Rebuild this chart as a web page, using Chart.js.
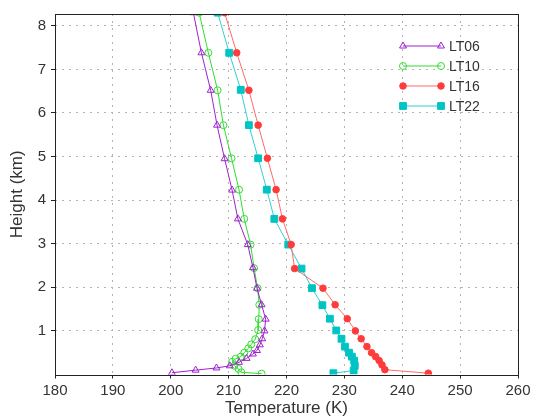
<!DOCTYPE html>
<html>
<head>
<meta charset="utf-8">
<script src="https://cdn.jsdelivr.net/npm/chart.js@4"></script>
<style>
  html, body { margin: 0; padding: 0; background: #fff; }
  #wrap { width: 535px; height: 419px; }
</style>
</head>
<body>
<div id="wrap"><canvas id="grafica" width="535" height="419"></canvas></div>
<script>
const xTicks = [180, 190, 200, 210, 220, 230, 240, 250, 260];
const yTicks = [1, 2, 3, 4, 5, 6, 7, 8];
const seriesNames = ["LT06", "LT10", "LT16", "LT22"];

// height (km) / temperature (K), top to bottom
const lt06Height = [8.3, 7.38, 6.52, 5.72, 4.95, 4.23, 3.57, 2.98, 2.45, 1.98, 1.6, 1.27, 1.0, 0.82, 0.68, 0.55, 0.47, 0.37, 0.28, 0.2, 0.15, 0.1, 0.04];
const lt06Temp = [203.9, 205.3, 206.9, 208.0, 209.3, 210.6, 211.6, 213.3, 214.2, 214.9, 215.7, 216.4, 216.2, 215.8, 215.4, 214.9, 214.2, 213.1, 211.8, 210.2, 207.9, 204.3, 200.2];

const lt10Height = [8.3, 7.38, 6.52, 5.72, 4.96, 4.24, 3.57, 2.98, 2.44, 1.98, 1.6, 1.27, 1.02, 0.81, 0.69, 0.6, 0.5, 0.41, 0.36, 0.29, 0.2, 0.13, 0.05, 0.02];
const lt10Temp = [204.9, 206.5, 208.1, 209.1, 210.5, 211.8, 212.7, 213.8, 214.4, 215.0, 215.3, 215.2, 215.1, 214.6, 213.9, 213.4, 212.7, 212.1, 211.2, 210.6, 211.0, 211.7, 212.2, 215.7];

const lt16Height = [8.3, 7.38, 6.52, 5.72, 4.96, 4.24, 3.57, 2.98, 2.43, 1.98, 1.6, 1.28, 1.0, 0.82, 0.64, 0.5, 0.41, 0.32, 0.22, 0.11, 0.03];
const lt16Temp = [209.3, 211.4, 213.5, 215.1, 216.7, 218.2, 219.3, 220.8, 221.4, 226.3, 228.4, 230.5, 231.9, 232.9, 233.9, 234.7, 235.4, 236.0, 236.5, 237.0, 244.5];

const lt22Height = [8.3, 7.38, 6.53, 5.72, 4.96, 4.24, 3.57, 2.98, 2.43, 1.98, 1.59, 1.28, 1.01, 0.82, 0.64, 0.5, 0.41, 0.32, 0.2, 0.09, 0.03];
const lt22Temp = [208.1, 210.1, 212.1, 213.5, 215.1, 216.6, 217.9, 220.3, 222.6, 224.4, 226.2, 227.5, 228.6, 229.5, 230.1, 230.8, 231.3, 231.7, 231.8, 231.6, 228.1];

const puntos = (t, h) => t.map((v, i) => ({ x: v, y: h[i] }));

const estilos = [
  { line: "#a020d0", point: "#a020d0", fill: "rgba(0,0,0,0)", style: "triangle", r: 4 },
  { line: "#30dd30", point: "#30dd30", fill: "rgba(0,0,0,0)", style: "circle", r: 3.5 },
  { line: "#ff6a6a", point: "#ff3b3b", fill: "#ff3b3b", style: "circle", r: 3.3 },
  { line: "#30d0d0", point: "#00c4c4", fill: "#00c4c4", style: "rect", r: 4.8 }
];
const valores = [
  puntos(lt06Temp, lt06Height),
  puntos(lt10Temp, lt10Height),
  puntos(lt16Temp, lt16Height),
  puntos(lt22Temp, lt22Height)
];

const fuente = "'Liberation Sans', Arial, sans-serif";
const tinta = "#333";

// marco y leyenda
const marco = {
  id: "marco",
  afterDatasetsDraw(chart) {
    const { ctx, chartArea: a } = chart;
    ctx.save();
    ctx.strokeStyle = "#222";
    ctx.lineWidth = 1;
    ctx.strokeRect(Math.round(a.left) + 0.5, Math.round(a.top) + 0.5,
      Math.round(a.right - a.left), Math.round(a.bottom - a.top));

    chart.data.datasets.forEach((ds, i) => {
      const y = 46 + i * 20;
      ctx.strokeStyle = ds.borderColor;
      ctx.lineWidth = 1;
      ctx.beginPath();
      ctx.moveTo(403, y);
      ctx.lineTo(441, y);
      ctx.stroke();
      ctx.fillStyle = ds.pointBackgroundColor;
      ctx.strokeStyle = ds.pointBorderColor;
      [403, 441].forEach(x => {
        Chart.helpers.drawPoint(ctx, {
          pointStyle: ds.pointStyle, radius: ds.pointRadius, rotation: 0, borderWidth: 1
        }, x, y);
      });
      ctx.fillStyle = tinta;
      ctx.font = "14px " + fuente;
      ctx.textBaseline = "middle";
      ctx.fillText(ds.label, 449, y + 1);
    });
    ctx.restore();
  }
};

const ctx = document.getElementById("grafica").getContext("2d");
new Chart(ctx, {
  type: "scatter",
  data: {
    datasets: seriesNames.map((n, i) => ({
      label: n,
      data: valores[i],
      showLine: true,
      borderColor: estilos[i].line,
      borderWidth: 1,
      pointStyle: estilos[i].style,
      pointRadius: estilos[i].r,
      pointBorderColor: estilos[i].point,
      pointBackgroundColor: estilos[i].fill,
      pointBorderWidth: 1,
      clip: 0
    }))
  },
  options: {
    responsive: false,
    animation: false,
    layout: { padding: { top: 10, right: 17, left: 0, bottom: 0 } },
    plugins: { legend: { display: false }, tooltip: { enabled: false } },
    scales: {
      x: {
        type: "linear",
        min: 180,
        max: 260,
        afterBuildTicks: s => { s.ticks = xTicks.map(v => ({ value: v })); },
        afterFit: s => { s.height = 44.5; },
        grid: {
          color: "#b4b4b4",
          tickColor: "#222",
          tickLength: 4
        },
        border: { display: false, dash: [2, 5] },
        ticks: { color: tinta, font: { family: fuente, size: 15 }, padding: 3, maxRotation: 0, autoSkip: false },
        title: {
          display: true, text: "Temperature (K)", color: tinta,
          font: { family: fuente, size: 17 }, padding: { top: 0, bottom: 0 }
        }
      },
      y: {
        type: "linear",
        min: 0,
        max: 8.27,
        afterBuildTicks: s => { s.ticks = yTicks.map(v => ({ value: v })); },
        afterFit: s => { s.width = 55; },
        grid: {
          color: "#b4b4b4",
          tickColor: "#222",
          tickLength: 4
        },
        border: { display: false, dash: [2, 5] },
        ticks: { color: tinta, font: { family: fuente, size: 15 }, padding: 5 },
        title: {
          display: true, text: "Height (km)", color: tinta,
          font: { family: fuente, size: 17 }, padding: { top: 7, bottom: 0 }
        }
      }
    }
  },
  plugins: [marco]
});
</script>
</body>
</html>
